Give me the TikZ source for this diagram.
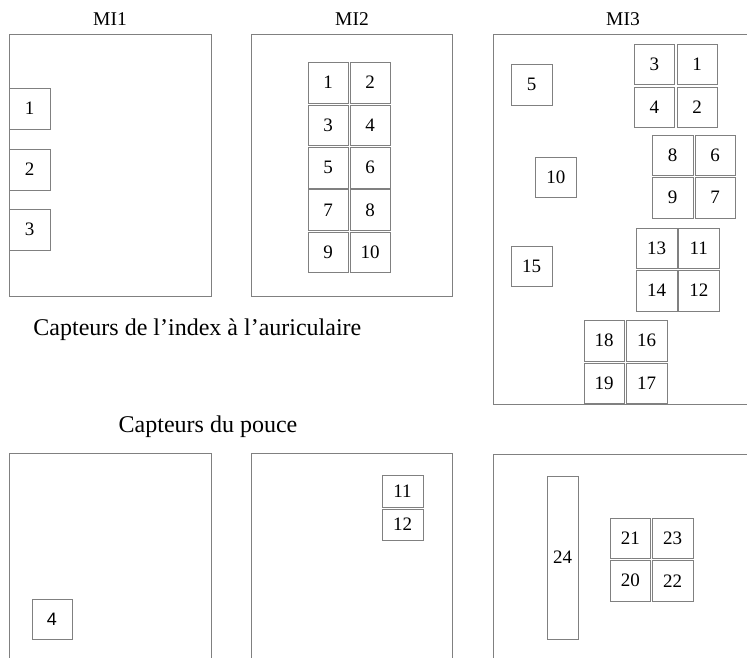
\documentclass[tikz,border=0pt]{standalone}
\usepackage{fontspec}
\setmainfont{Liberation Serif}
\newfontfamily\sansfont{Liberation Sans}

\tikzset{
	capteur/.style={draw=gray, inner sep=0pt, minimum width=40.5pt, minimum height=40.5pt, font=\fontsize{19}{19}\selectfont},
	cadre/.style={draw=gray, line width=0.8pt},
	titre/.style={font=\fontsize{19.5}{20}\selectfont},
	legende/.style={anchor=base, inner sep=0pt, font=\fontsize{24}{25}\selectfont},
}

\begin{document}
\begin{tikzpicture}[x=1pt,y=-1pt]
		\clip (0,0) rectangle (747,657);

		% cadres du haut
		\draw[cadre] (9.5,34) rectangle (211,296);
		\draw[cadre] (251.7,34) rectangle (452.7,296);
		\draw[cadre] (493.3,34) rectangle (770,404.3);

		% cadres du bas
		\draw[cadre] (9.5,700) -- (9.5,453.3) -- (211,453.3) -- (211,700);
		\draw[cadre] (251.7,700) -- (251.7,453.3) -- (452.7,453.3) -- (452.7,700);
		\draw[cadre] (493.3,700) -- (493.3,454.5) -- (770,454.5);

		\node[titre] (t1) at (110,19) {MI1};
		\node[titre] (t2) at (352,19) {MI2};
		\node[titre] (t3) at (623,19) {MI3};

		%MI1
		\foreach \n/\y in {1/108.5, 2/169.5, 3/229.5}{
			\node[capteur] (a\n) at (29.7,\y) {\n};
		}

		%MI2
		\foreach \r in {0, 1, 2, 3, 4}{
			\foreach \c in {0, 1}{
				\pgfmathtruncatemacro\n{2*\r+\c+1}
				\node[capteur] (b\n) at ({328+42.2*\c},{82.7+42.4*\r}) {\n};
			}
		}

		%MI3
		\foreach \n/\x/\y in {5/531.5/84.5, 10/555.8/177.3, 15/531.5/266.3,
				3/654.3/64.3, 1/697/64.3, 4/654.3/107, 2/697/107,
				8/672.7/155, 6/715.2/155, 9/672.7/197.7, 7/715.2/197.7,
				13/656.7/248.3, 11/698.8/248.3, 14/656.7/290.7, 12/698.8/290.7,
				18/604.2/340.7, 16/646.5/340.7, 19/604.2/383.3, 17/646.5/383.3}{
			\node[capteur] (c\n) at (\x,\y) {\n};
		}

		\node[legende] (l1) at (197.4,335) {Capteurs de l'index à l'auriculaire};
		\node[legende] (l2) at (208,432) {Capteurs du pouce};

		% pouce
		\node[capteur, font=\sansfont\fontsize{18}{18}\selectfont] (d4) at (52,619.2) {4};
		\node[capteur, minimum height=31.7pt] (e11) at (402.5,491.2) {11};
		\node[capteur, minimum height=31.3pt] (e12) at (402.5,524.4) {12};
		\node[capteur, minimum width=30.7pt, minimum height=163.6pt] (f24) at (562.7,557.5) {24};
		\foreach \n/\x/\y in {21/630.3/538.2, 23/672.5/538.2, 20/630.3/580.7, 22/672.5/580.7}{
			\node[capteur] (f\n) at (\x,\y) {\n};
		}

\end{tikzpicture}
\end{document}
